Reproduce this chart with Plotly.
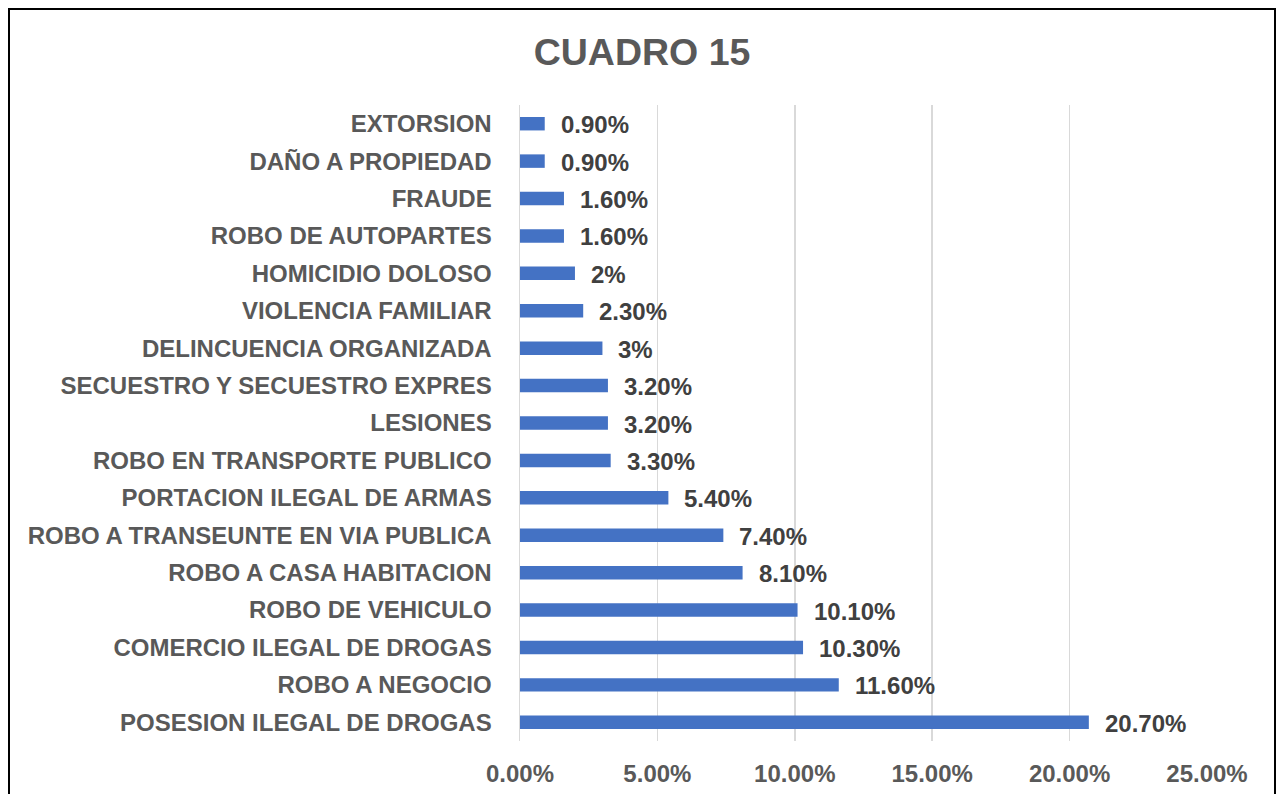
import plotly.graph_objects as go

categories = [
    "EXTORSION", "DAÑO A PROPIEDAD", "FRAUDE", "ROBO DE AUTOPARTES",
    "HOMICIDIO DOLOSO", "VIOLENCIA FAMILIAR", "DELINCUENCIA ORGANIZADA",
    "SECUESTRO Y SECUESTRO EXPRES", "LESIONES", "ROBO EN TRANSPORTE PUBLICO",
    "PORTACION ILEGAL DE ARMAS", "ROBO A TRANSEUNTE EN VIA PUBLICA",
    "ROBO A CASA HABITACION", "ROBO DE VEHICULO", "COMERCIO ILEGAL DE DROGAS",
    "ROBO A NEGOCIO", "POSESION ILEGAL DE DROGAS",
]
values = [0.009, 0.009, 0.016, 0.016, 0.02, 0.023, 0.03, 0.032, 0.032, 0.033,
          0.054, 0.074, 0.081, 0.101, 0.103, 0.116, 0.207]
value_labels = ["0.90%", "0.90%", "1.60%", "1.60%", "2%", "2.30%", "3%", "3.20%",
                "3.20%", "3.30%", "5.40%", "7.40%", "8.10%", "10.10%", "10.30%",
                "11.60%", "20.70%"]
title_text = "CUADRO 15"

FONT = "Liberation Sans, Arial, sans-serif"

fig = go.Figure()
fig.add_trace(go.Bar(
    x=values, y=categories, orientation="h",
    marker=dict(color="#4472C4", line=dict(width=0)),
    width=0.36, hoverinfo="skip",
))

for c, v, t in zip(categories, values, value_labels):
    fig.add_annotation(
        x=v, y=c, xref="x", yref="y", text=t, showarrow=False,
        xanchor="left", yanchor="middle", xshift=14, yshift=-1,
        font=dict(family=FONT, size=24, color="#404040", weight="bold"),
    )

# outer border
L, R, T, B = 520, 1207, 105, 741
W, H = R - L, B - T
fig.add_shape(
    type="rect", xref="paper", yref="paper",
    x0=(9 - L) / W, x1=(1275 - L) / W,
    y0=(B - 810) / H, y1=(B - 9) / H,
    line=dict(color="black", width=2), fillcolor="rgba(0,0,0,0)", layer="above",
)

fig.update_layout(
    width=1279, height=794,
    margin=dict(l=L, r=1279 - R, t=T, b=794 - B, autoexpand=False),
    paper_bgcolor="white", plot_bgcolor="white",
    showlegend=False,
    title=dict(text=title_text, x=642 / 1279, xanchor="center", xref="container",
               y=1 - 52 / 794, yanchor="middle", yref="container",
               font=dict(family=FONT, size=37.5, color="#595959", weight="bold")),
    font=dict(family=FONT, size=24, color="#595959"),
)
fig.update_xaxes(
    range=[0, 0.25], dtick=0.05, tick0=0, tickformat=".2%",
    showgrid=True, gridcolor="#d9d9d9", gridwidth=1.5,
    zeroline=False, showline=False,
    ticks="outside", ticklen=11, tickcolor="rgba(0,0,0,0)",
    tickfont=dict(family=FONT, size=24, color="#595959", weight="bold"),
    fixedrange=True,
)
fig.update_yaxes(
    autorange="reversed", showgrid=False, zeroline=False,
    showline=True, linecolor="#d9d9d9", linewidth=1.5,
    ticks="", ticklabelstandoff=22,
    tickfont=dict(family=FONT, size=24, color="#595959", weight="bold"),
    fixedrange=True,
)

fig.write_html(
    "out.html",
    config={"displayModeBar": False, "staticPlot": True},
    post_script="document.body.style.margin='0';document.body.style.overflow='hidden';",
)
